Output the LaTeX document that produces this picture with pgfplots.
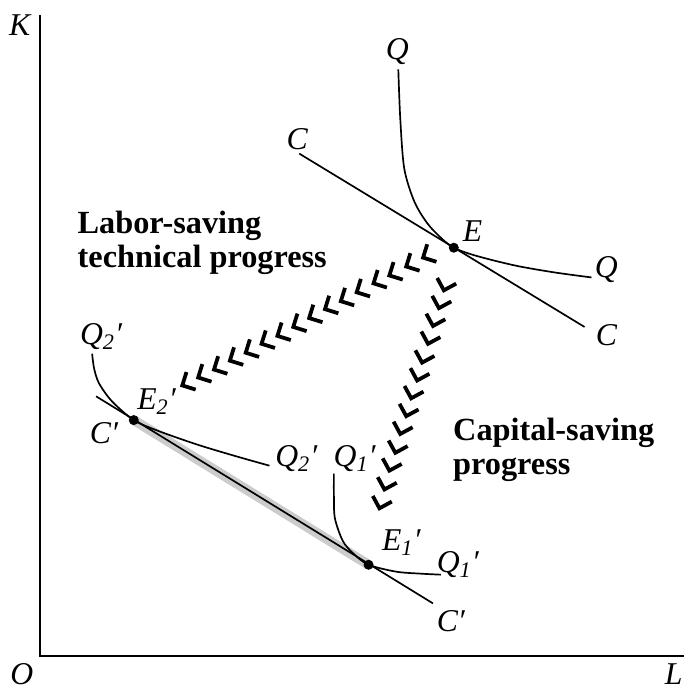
\documentclass[border=0pt]{standalone}
\usepackage{fontspec}
\setmainfont{Liberation Serif}
\usepackage{pgfplots}
\pgfplotsset{compat=1.18}
\pgfdeclareplotmark{chev}{%
  \pgfpathmoveto{\pgfqpoint{-5pt}{5pt}}%
  \pgfpathlineto{\pgfqpoint{0pt}{0pt}}%
  \pgfpathlineto{\pgfqpoint{-5pt}{-5pt}}%
  \pgfusepathqstroke}
\newcommand{\lab}{\fontsize{16}{17}\selectfont\itshape}
\newcommand{\bld}{\fontsize{16.3}{17.5}\selectfont\bfseries}
\begin{document}
\begin{tikzpicture}
\begin{axis}[
  x=0.5pt, y=0.5pt, xmin=0, xmax=691, ymin=0, ymax=691,
  y dir=reverse, hide axis, clip=false, scale only axis]
\path (axis cs:0,0) rectangle (axis cs:691,691);
% axes
\addplot[black, line width=1pt] coordinates {(40,15) (40,662) (690,662)};
% original isoquant Q
\addplot[black, line width=0.85pt, smooth, tension=0.5] coordinates {
 (402,70) (404,120) (408,170) (418,203) (431,225) (445,240) (458,250)
 (480,258) (520,268) (560,275) (597,280)};
% isocost C
\addplot[black, line width=0.85pt] coordinates {(302,155) (590,330)};
% gray band
\addplot[gray!40, line width=5pt] coordinates {(135,424) (372,570)};
% isocost C'
\addplot[black, line width=0.85pt] coordinates {(97,400) (437,609)};
% Q2'
\addplot[black, line width=0.85pt, smooth, tension=0.5] coordinates {
 (93,357) (95,372) (100,387) (113,405) (135,424) (160,435)
 (200,449) (240,461) (272,470)};
% Q1'
\addplot[black, line width=0.85pt, smooth, tension=0.5] coordinates {
 (337,478) (337,500) (338,523) (346,546) (357,559) (372,570)
 (400,577) (425,579) (445,580)};
% points
\addplot[only marks, mark=*, mark size=2.3pt, black] coordinates {
 (458,250) (135,424) (372,570)};
% chevrons: labor-saving
\addplot[only marks, mark=chev, mark options={line width=1.9pt, rotate=207.7}] coordinates {
 (427,260) (410,269) (393,278) (377,286) (360,295) (344,304) (328,312)
 (312,321) (296,330) (280,339) (264,347) (248,356) (232,364)
 (216,373) (200,381) (184,389)};
% chevrons: capital-saving
\addplot[only marks, mark=chev, mark options={line width=1.9pt, rotate=253.5}] coordinates {
 (448,293) (443,311) (437,329) (432,347) (426,366) (421,384) (415,402)
 (410,420) (404,438) (399,457) (393,475) (388,494) (383,513)};
% labels
\node at (axis cs:20,25) {\lab K};
\node at (axis cs:22,680) {\lab O};
\node at (axis cs:680,680) {\lab L};
\node at (axis cs:401,52) {\lab Q};
\node at (axis cs:300,140) {\lab C};
\node at (axis cs:477,233) {\lab E};
\node at (axis cs:612,272) {\lab Q};
\node at (axis cs:612,338) {\lab C};
\node at (axis cs:102,340) {\lab Q\textsubscript{2}′};
\node at (axis cs:105,437) {\lab C′};
\node at (axis cs:158,405) {\lab E\textsubscript{2}′};
\node at (axis cs:299,463) {\lab Q\textsubscript{2}′};
\node at (axis cs:358,463) {\lab Q\textsubscript{1}′};
\node at (axis cs:405,548) {\lab E\textsubscript{1}′};
\node at (axis cs:462,570) {\lab Q\textsubscript{1}′};
\node at (axis cs:455,627) {\lab C′};
\node[anchor=west, align=left, inner sep=0pt, font=\bld] at (axis cs:78,245) {Labor-saving\\technical progress};
\node[anchor=west, align=left, inner sep=0pt, font=\bld] at (axis cs:457,454) {Capital-saving\\progress};
\end{axis}
\end{tikzpicture}
\end{document}
